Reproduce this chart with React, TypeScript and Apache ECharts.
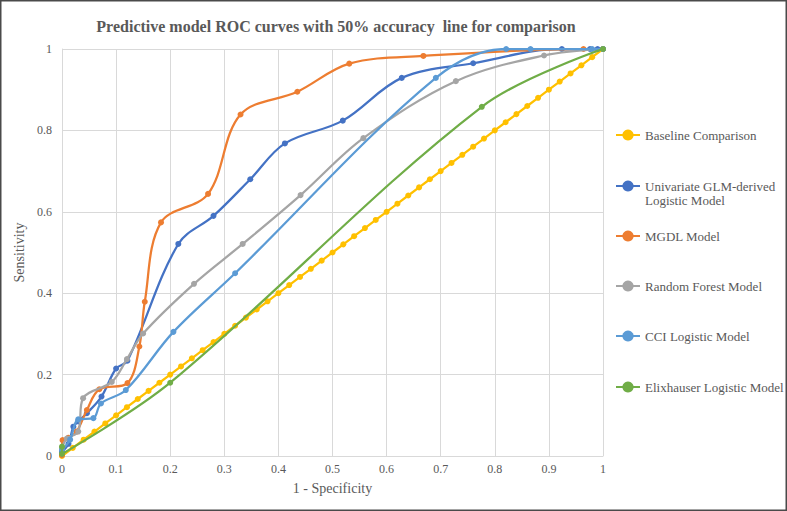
import React, { useEffect, useRef } from "react";
import * as echarts from "echarts";

const TITLE = "Predictive model ROC curves with 50% accuracy  line for comparison";
const X_NAME = "1 - Specificity";
const Y_NAME = "Sensitivity";

const SERIES_NAMES = [
  "Baseline Comparison",
  "Univariate GLM-derived Logistic Model",
  "MGDL Model",
  "Random Forest Model",
  "CCI Logistic Model",
  "Elixhauser Logistic Model",
];
const LEGEND_LABELS = [
  "Baseline Comparison",
  "\nUnivariate GLM-derived\nLogistic Model",
  "MGDL Model",
  "Random Forest Model",
  "CCI Logistic Model",
  "Elixhauser Logistic Model",
];
const COLORS = ["#FFC000", "#4472C4", "#ED7D31", "#A5A5A5", "#5B9BD5", "#70AD47"];

const BASE_X = [0, 0.02, 0.04, 0.06, 0.08, 0.1, 0.12, 0.14, 0.16, 0.18, 0.2, 0.22, 0.24, 0.26, 0.28, 0.3, 0.32, 0.34, 0.36, 0.38, 0.4, 0.42, 0.44, 0.46, 0.48, 0.5, 0.52, 0.54, 0.56, 0.58, 0.6, 0.62, 0.64, 0.66, 0.68, 0.7, 0.72, 0.74, 0.76, 0.78, 0.8, 0.82, 0.84, 0.86, 0.88, 0.9, 0.92, 0.94, 0.96, 0.98, 1];
const BASE_Y = [0, 0.02, 0.04, 0.06, 0.08, 0.1, 0.12, 0.14, 0.16, 0.18, 0.2, 0.22, 0.24, 0.26, 0.28, 0.3, 0.32, 0.34, 0.36, 0.38, 0.4, 0.42, 0.44, 0.46, 0.48, 0.5, 0.52, 0.54, 0.56, 0.58, 0.6, 0.62, 0.64, 0.66, 0.68, 0.7, 0.72, 0.74, 0.76, 0.78, 0.8, 0.82, 0.84, 0.86, 0.88, 0.9, 0.92, 0.94, 0.96, 0.98, 1];

const GLM_X = [0, 0.012, 0.021, 0.03, 0.046, 0.073, 0.1, 0.121, 0.215, 0.28, 0.348, 0.412, 0.519, 0.628, 0.76, 0.924, 0.976, 0.99, 1];
const GLM_Y = [0.01, 0.03, 0.072, 0.085, 0.105, 0.146, 0.215, 0.234, 0.521, 0.59, 0.68, 0.768, 0.824, 0.929, 0.965, 1, 1, 1, 1];

const MGDL_X = [0, 0.001, 0.012, 0.027, 0.046, 0.069, 0.121, 0.143, 0.153, 0.183, 0.27, 0.33, 0.435, 0.531, 0.668, 0.964, 1];
const MGDL_Y = [0.002, 0.039, 0.045, 0.06, 0.113, 0.164, 0.179, 0.269, 0.379, 0.574, 0.644, 0.839, 0.895, 0.964, 0.983, 1, 1];

const RF_X = [0, 0.009, 0.03, 0.039, 0.092, 0.12, 0.15, 0.244, 0.334, 0.441, 0.557, 0.728, 0.891, 1];
const RF_Y = [0.02, 0.043, 0.06, 0.142, 0.182, 0.238, 0.301, 0.423, 0.521, 0.641, 0.781, 0.921, 0.984, 1];

const CCI_X = [0, 0.015, 0.03, 0.058, 0.072, 0.118, 0.206, 0.32, 0.691, 0.821, 0.866, 0.98, 1];
const CCI_Y = [0.015, 0.04, 0.09, 0.093, 0.129, 0.162, 0.305, 0.449, 0.929, 1, 1, 1, 1];

const ELIX_X = [0, 0, 0.2, 0.776, 1];
const ELIX_Y = [0.023, 0.005, 0.18, 0.858, 1];

const X_TICKS = [0, 0.1, 0.2, 0.3, 0.4, 0.5, 0.6, 0.7, 0.8, 0.9, 1];
const Y_TICKS = [0, 0.2, 0.4, 0.6, 0.8, 1];

const zip = (xs: number[], ys: number[]) => xs.map((x, i) => [x, ys[i]]);

const SERIES_DATA = [
  zip(BASE_X, BASE_Y),
  zip(GLM_X, GLM_Y),
  zip(MGDL_X, MGDL_Y),
  zip(RF_X, RF_Y),
  zip(CCI_X, CCI_Y),
  zip(ELIX_X, ELIX_Y),
];

const LEGEND_TOPS = [128, 165, 229, 279, 329, 380];

const FONT = "'Liberation Serif', 'Times New Roman', serif";

export default function App() {
  const ref = useRef<HTMLDivElement>(null);
  useEffect(() => {
    document.body.style.margin = "0";
    const chart = echarts.init(ref.current!, null, { renderer: "svg" });
    const option: any = {
      animation: false,
      backgroundColor: "#ffffff",
      title: {
        text: TITLE,
        left: 331,
        top: 13,
        textAlign: "center",
        textStyle: { fontFamily: FONT, fontSize: 16, fontWeight: "bold", color: "#595959" },
      },
      grid: { left: 62, right: 184, top: 49, bottom: 55, containLabel: false },
      xAxis: {
        type: "value",
        min: 0,
        max: 1,
        interval: 0.1,
        name: X_NAME,
        nameLocation: "middle",
        nameGap: 25,
        nameTextStyle: { fontFamily: FONT, fontSize: 14, color: "#595959" },
        axisLine: { lineStyle: { color: "#D9D9D9", width: 1 } },
        axisTick: { show: false },
        axisLabel: {
          fontFamily: FONT,
          fontSize: 12,
          color: "#595959",
          margin: 7,
          formatter: (v: number) => {
            const t = X_TICKS.find((k) => Math.abs(k - v) < 1e-9);
            return t === undefined ? "" : String(t);
          },
        },
        splitLine: { show: true, lineStyle: { color: "#D9D9D9", width: 1 } },
      },
      yAxis: {
        type: "value",
        min: 0,
        max: 1,
        interval: 0.2,
        name: Y_NAME,
        nameLocation: "middle",
        nameGap: 29,
        nameRotate: 90,
        nameTextStyle: { fontFamily: FONT, fontSize: 14, color: "#595959" },
        axisLine: { show: true, lineStyle: { color: "#D9D9D9", width: 1 } },
        axisTick: { show: false },
        axisLabel: {
          fontFamily: FONT,
          fontSize: 12,
          color: "#595959",
          margin: 10,
          formatter: (v: number) => {
            const t = Y_TICKS.find((k) => Math.abs(k - v) < 1e-9);
            return t === undefined ? "" : String(t);
          },
        },
        splitLine: { show: true, lineStyle: { color: "#D9D9D9", width: 1 } },
      },
      legend: SERIES_NAMES.map((n, i) => ({
        data: [n],
        left: 615,
        top: LEGEND_TOPS[i],
        padding: 0,
        itemWidth: 24,
        itemHeight: 14,
        selectedMode: false,
        formatter: () => LEGEND_LABELS[i],
        textStyle: {
          fontFamily: FONT,
          fontSize: 13,
          color: "#595959",
          lineHeight: 14,
        },
      })),
      graphic: [
        {
          type: "rect",
          shape: { x: 0.75, y: 0.75, width: 785.5, height: 509.5 },
          style: { fill: "none", stroke: "#4a4a4a", lineWidth: 1.5 },
          silent: true,
        },
      ],
      series: SERIES_NAMES.map((n, i) => ({
        name: n,
        type: "line",
        data: SERIES_DATA[i],
        smooth: i === 0 ? false : 0.35,
        symbol: "circle",
        symbolSize: 6,
        showSymbol: true,
        lineStyle: { color: COLORS[i], width: 2.25 },
        itemStyle: { color: COLORS[i] },
        emphasis: { disabled: true },
        z: 2 + i,
      })),
    };
    chart.setOption(option);
    return () => chart.dispose();
  }, []);
  return <div ref={ref} style={{ width: 787, height: 511 }} />;
}
